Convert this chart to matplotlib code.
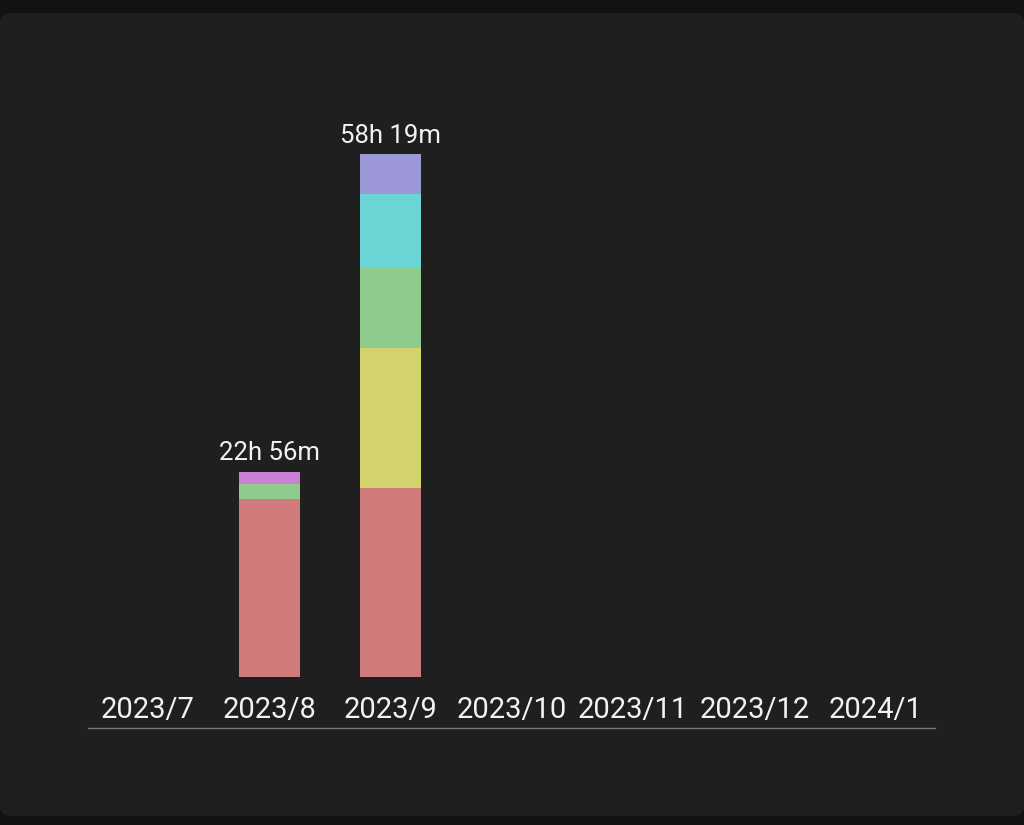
import numpy as np
import matplotlib.pyplot as plt
from matplotlib.patches import FancyBboxPatch

plt.rcParams['font.family'] = ['Roboto', 'DejaVu Sans']

months = ['2023/7', '2023/8', '2023/9', '2023/10', '2023/11', '2023/12', '2024/1']
totals = ['', '22h 56m', '58h 19m', '', '', '', '']

# hours per category, stacked bottom to top
red = [0, 19.85, 21.10, 0, 0, 0, 0]
yellow = [0, 0, 15.65, 0, 0, 0, 0]
green = [0, 1.65, 8.95, 0, 0, 0, 0]
cyan = [0, 0, 8.25, 0, 0, 0, 0]
purple = [0, 0, 4.37, 0, 0, 0, 0]
pink = [0, 1.43, 0, 0, 0, 0, 0]

series = [red, yellow, green, cyan, purple, pink]
colors = ['#d07b7b', '#d3d36e', '#8ecb8c', '#6bd5d5', '#9c98d8', '#cb7fd5']

fig = plt.figure(figsize=(10.24, 8.25), dpi=100)
fig.patch.set_facecolor('#121212')
panel = FancyBboxPatch((0.0, 9 / 825), 1.0, 803 / 825,
                       boxstyle='round,pad=0,rounding_size=0.012',
                       transform=fig.transFigure, facecolor='#1f1f1f',
                       edgecolor='none', zorder=-10)
fig.patches.append(panel)

ax = fig.add_axes([88 / 1024, 97 / 825, 847 / 1024, 628 / 825])
ax.set_facecolor('none')
ax.set_zorder(5)

x = np.arange(len(months))
bottom = np.zeros(len(months))
for vals, c in zip(series, colors):
    vals = np.array(vals)
    ax.bar(x, vals, width=0.5, bottom=bottom, color=c, linewidth=0)
    bottom += vals

# total label above each non-empty bar
for i, t in enumerate(totals):
    if t:
        ax.text(x[i], bottom[i] + 0.75, t, ha='center', va='bottom',
                color='#f2f2f2', fontsize=18.5)

for i, m in enumerate(months):
    ax.text(x[i], -3.7, m, ha='center', va='center',
            color='#f2f2f2', fontsize=21)

ax.set_xlim(-0.495, 6.49)
ax.set_ylim(-5.7, 64.4)
for s in ['top', 'right', 'left']:
    ax.spines[s].set_visible(False)
ax.spines['bottom'].set_color('#7a7a7a')
ax.spines['bottom'].set_linewidth(1)
ax.set_xticks([])
ax.set_yticks([])

fig.savefig('out.png', dpi=100, facecolor=fig.get_facecolor())
